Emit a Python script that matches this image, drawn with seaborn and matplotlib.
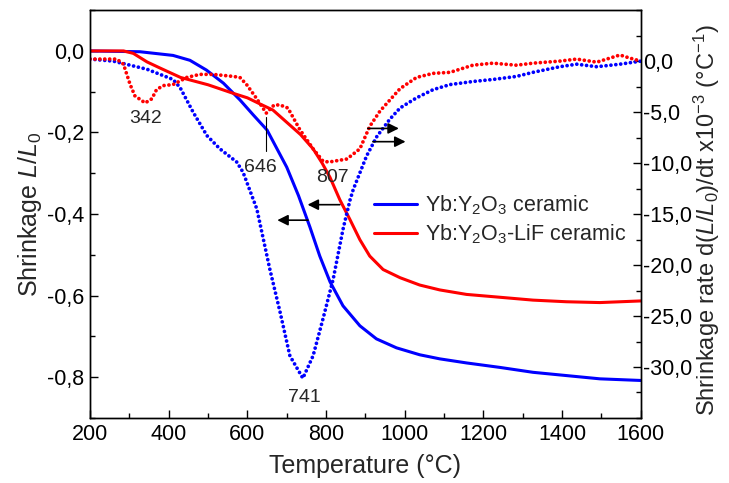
import matplotlib
matplotlib.use("Agg")
import matplotlib.pyplot as plt
import matplotlib.ticker as mticker
import seaborn as sns
import pandas as pd

# ---------------- data ----------------
# Shrinkage L/L0 (left axis)
T_shrink_Y = [200, 260, 327, 411, 454, 496, 539, 581, 615, 650, 700, 730, 759, 784, 810,
              843, 886, 928, 979, 1038, 1089, 1157, 1242, 1326, 1411, 1496, 1600]
shrink_Y = [0.0, -0.001, -0.002, -0.011, -0.023, -0.047, -0.079, -0.120, -0.157, -0.194,
            -0.285, -0.355, -0.432, -0.503, -0.566, -0.625, -0.674, -0.706, -0.728,
            -0.745, -0.755, -0.765, -0.776, -0.788, -0.796, -0.804, -0.808]

T_shrink_LiF = [200, 285, 310, 345, 378, 430, 500, 564, 600, 632, 665, 700, 735, 767, 790,
                810, 835, 861, 886, 911, 945, 988, 1038, 1089, 1157, 1242, 1326, 1411,
                1496, 1600]
shrink_LiF = [0.0, 0.0, -0.006, -0.027, -0.042, -0.065, -0.083, -0.104, -0.115, -0.130,
              -0.145, -0.175, -0.205, -0.240, -0.275, -0.310, -0.365, -0.414, -0.463,
              -0.503, -0.536, -0.556, -0.574, -0.586, -0.597, -0.604, -0.611, -0.615,
              -0.617, -0.613]

# Shrinkage rate d(L/L0)/dt x10^-3 (right axis)
T_rate_Y = [200, 259, 345, 411, 429, 462, 497, 530, 573, 589, 624, 657, 683, 708, 741,
            767, 792, 818, 843, 861, 869, 903, 929, 962, 988, 1013, 1030, 1072, 1115, 1173,
            1224, 1284, 1326, 1394, 1437, 1488, 1547, 1600]
rate_Y = [0.2, 0.0, -0.8, -1.8, -2.6, -5.0, -7.3, -8.6, -9.9, -10.9, -14.5, -20.4, -24.6,
          -28.9, -31.1, -28.9, -25.3, -21.4, -16.5, -13.6, -12.6, -9.3, -7.4, -5.7, -4.6,
          -4.0, -3.6, -2.8, -2.3, -2.0, -1.8, -1.5, -1.1, -0.55, -0.3, -0.55, -0.3, 0.0]

T_rate_LiF = [200, 268, 285, 302, 314, 340, 357, 369, 386, 411, 446, 479, 513, 564, 581,
              598, 624, 648, 668, 683, 703, 733, 767, 792, 807, 853, 886, 911, 937, 988,
              1030, 1072, 1115, 1173, 1224, 1284, 1326, 1394, 1437, 1488, 1547, 1572, 1600]
rate_LiF = [0.2, 0.2, -0.3, -2.3, -3.4, -4.1, -3.7, -2.8, -2.4, -2.3, -1.6, -1.3, -1.3,
            -1.5, -1.6, -2.3, -3.7, -5.1, -4.3, -4.3, -4.6, -6.7, -8.6, -9.8, -9.9, -9.6,
            -8.6, -6.4, -4.9, -2.7, -1.6, -1.2, -1.1, -0.4, -0.2, -0.4, -0.2, 0.0, 0.2,
            -0.1, 0.6, 0.3, 0.0]

series_labels = ["Yb:Y$_2$O$_3$ ceramic", "Yb:Y$_2$O$_3$-LiF ceramic"]
x_ticks = [200, 400, 600, 800, 1000, 1200, 1400, 1600]
left_ticks = [0.0, -0.2, -0.4, -0.6, -0.8]
right_ticks = [0.0, -5.0, -10.0, -15.0, -20.0, -25.0, -30.0]
peak_labels = ["342", "646", "807", "741"]

# ---------------- style ----------------
sns.set_theme(style="ticks")
plt.rcParams["font.family"] = ["Liberation Sans", "DejaVu Sans"]
plt.rcParams["mathtext.fontset"] = "custom"
plt.rcParams["mathtext.rm"] = "Liberation Sans"
plt.rcParams["mathtext.it"] = "Liberation Sans:italic"
plt.rcParams["mathtext.bf"] = "Liberation Sans:bold"
plt.rcParams["axes.linewidth"] = 1.0

BLUE = "#0000FF"
RED = "#FF0000"

fig = plt.figure(figsize=(7.29, 4.83), dpi=100)
ax = fig.add_axes([0.1235, 0.1346, 0.879 - 0.1235, 0.979 - 0.1346])
ax2 = ax.twinx()

df_sy = pd.DataFrame({"T": T_shrink_Y, "v": shrink_Y})
df_sl = pd.DataFrame({"T": T_shrink_LiF, "v": shrink_LiF})
df_ry = pd.DataFrame({"T": T_rate_Y, "v": rate_Y})
df_rl = pd.DataFrame({"T": T_rate_LiF, "v": rate_LiF})

sns.lineplot(data=df_sy, x="T", y="v", ax=ax, color=BLUE, lw=2.2, estimator=None,
             label=series_labels[0], legend=False)
sns.lineplot(data=df_sl, x="T", y="v", ax=ax, color=RED, lw=2.2, estimator=None,
             label=series_labels[1], legend=False)
sns.lineplot(data=df_ry, x="T", y="v", ax=ax2, color=BLUE, lw=2.7, estimator=None,
             legend=False)
sns.lineplot(data=df_rl, x="T", y="v", ax=ax2, color=RED, lw=2.7, estimator=None,
             legend=False)
for ln in ax2.get_lines():
    ln.set_linestyle((0, (0.01, 1.3)))
    ln.set_dash_capstyle("round")

# axes limits & ticks
ax.set_xlim(200, 1600)
ax.set_ylim(-0.9, 0.1)
ax2.set_ylim(-35, 5)
ax.set_xticks(x_ticks)
ax.set_yticks(left_ticks)
ax2.set_yticks(right_ticks)
ax.xaxis.set_minor_locator(mticker.MultipleLocator(100))
ax.yaxis.set_minor_locator(mticker.MultipleLocator(0.1))
ax2.yaxis.set_minor_locator(mticker.MultipleLocator(2.5))
ax.set_yticklabels([f"{v:.1f}".replace(".", ",") for v in left_ticks])
ax2.set_yticklabels([f"{v:.1f}".replace(".", ",") for v in right_ticks])

for a in (ax, ax2):
    a.tick_params(which="major", direction="in", length=6, width=1, labelsize=15.5,
                  color="black", labelcolor="black", pad=4)
    a.tick_params(which="minor", direction="in", length=3.5, width=1, color="black")
    for s in a.spines.values():
        s.set_color("black")
        s.set_linewidth(1.0)
ax.tick_params(axis="y", which="both", right=False)
ax.tick_params(axis="x", which="both", top=False)
ax2.tick_params(axis="y", which="both", left=False, right=True)
ax2.tick_params(axis="y", which="major", pad=1.5)

ax.set_xlabel("Temperature (°C)", fontsize=18)
ax.xaxis.set_label_coords(0.5, -0.088)
ax.set_ylabel("Shrinkage $L/L_0$", fontsize=18)
ax.yaxis.set_label_coords(-0.083, 0.5)
ax2.set_ylabel("Shrinkage rate d($L/L_0$)/dt x10$^{-3}$ (°C$^{-1}$)", fontsize=17)
ax2.yaxis.set_label_coords(1.093, 0.485)

# peak annotations (right-axis data coordinates)
ax2.text(340, -5.6, peak_labels[0], fontsize=14, ha="center", va="center")
ax2.text(634, -10.4, peak_labels[1], fontsize=14, ha="center", va="center")
ax2.plot([648, 648], [-5.5, -8.8], color="black", lw=0.8)
ax2.text(817, -11.4, peak_labels[2], fontsize=14, ha="center", va="center")
ax2.text(746, -33.0, peak_labels[3], fontsize=14, ha="center", va="center")

# arrows pointing to the axes each curve belongs to
arrow = dict(arrowstyle="-|>", color="black", lw=1.2, mutation_scale=16,
             shrinkA=0, shrinkB=0)
ax.annotate("", xy=(753, -0.377), xytext=(835, -0.377), arrowprops=arrow)
ax.annotate("", xy=(676, -0.415), xytext=(754, -0.415), arrowprops=arrow)
ax2.annotate("", xy=(985, -6.6), xytext=(906, -6.6), arrowprops=arrow)
ax2.annotate("", xy=(1002, -7.9), xytext=(919, -7.9), arrowprops=arrow)

# legend (solid shrinkage curves)
handles, labels = ax.get_legend_handles_labels()
leg = ax2.legend(handles, labels, loc="upper left", bbox_to_anchor=(0.515, 0.55),
                 frameon=False, fontsize=15.5, handlelength=2.0, handletextpad=0.4,
                 labelspacing=0.25, borderpad=0, borderaxespad=0)

fig.savefig("out.png", dpi=100)
